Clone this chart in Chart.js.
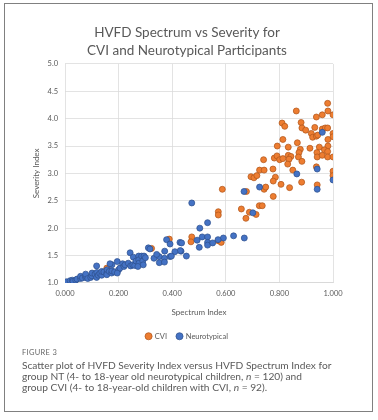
<!DOCTYPE html>
<html>
<head>
<meta charset="utf-8">
<script src="https://cdn.jsdelivr.net/npm/chart.js@4.4.1/dist/chart.umd.min.js"></script>
<style>
  body { margin: 0; background: #fff; }
  #frame { position: absolute; left: 4px; top: 3px; width: 369px; height: 409px; box-sizing: border-box; border: 1px solid #808080; }
  #myChart { position: absolute; left: 0; top: 0; }
  #fig { position: absolute; left: 22px; top: 348px; font-family: Lato, sans-serif; font-size: 7.5px; color: #666; letter-spacing: 0.3px; }
  #caption { position: absolute; left: 22px; top: 360px; width: 345px; font-family: Lato, sans-serif; font-size: 10.2px; line-height: 11px; color: #5a5a5a; }
</style>
</head>
<body>
<div id="frame"></div>
<canvas id="myChart" width="374" height="350"></canvas>
<div id="fig">FIGURE 3</div>
<div id="caption">Scatter plot of HVFD Severity Index versus HVFD Spectrum Index for<br>group NT (4- to 18-year old neurotypical children, <i>n</i> = 120) and<br>group CVI (4- to 18-year-old children with CVI, <i>n</i> = 92).</div>
<script>
// values
var cviX = [0.980, 0.863, 0.981, 0.960, 0.938, 1.000, 0.810, 0.820, 0.881, 0.884, 0.898, 0.932, 0.960, 0.971, 0.980,
            0.919, 0.924, 0.938, 0.943, 1.000, 1.000, 0.981, 0.813, 0.867, 0.792, 0.833, 0.878, 0.873, 0.914, 0.949,
            0.981, 0.968, 0.980, 0.940, 0.941, 0.960, 0.980, 1.000, 0.781, 0.791, 0.801, 0.813, 0.833, 0.843, 0.836,
            0.871, 0.884, 0.831, 0.741, 0.726, 0.743, 0.776, 0.850, 0.938, 1.000, 1.000, 0.694, 0.705, 0.716, 0.785,
            0.777, 0.883, 0.806, 0.941, 0.587, 0.743, 0.749, 0.838, 0.777, 0.677, 0.725, 0.736, 0.658, 0.688, 0.713,
            0.675, 0.572, 0.572, 0.572, 0.583, 0.473, 0.470, 0.389, 0.323, 0.156];
var cviY = [4.28, 4.14, 4.14, 4.07, 4.03, 4.07, 3.92, 3.86, 3.93, 3.83, 3.79, 3.84, 3.81, 3.83, 3.83,
            3.73, 3.66, 3.68, 3.70, 3.73, 3.67, 3.62, 3.62, 3.56, 3.50, 3.48, 3.44, 3.38, 3.46, 3.48,
            3.50, 3.43, 3.40, 3.38, 3.30, 3.33, 3.30, 3.30, 3.28, 3.32, 3.25, 3.27, 3.33, 3.31, 3.26,
            3.30, 3.22, 3.17, 3.25, 3.06, 3.06, 3.08, 3.06, 3.12, 3.04, 2.96, 2.94, 2.92, 2.96, 2.93,
            2.86, 2.84, 2.80, 2.79, 2.71, 2.71, 2.75, 2.74, 2.58, 2.67, 2.41, 2.41, 2.35, 2.29, 2.25,
            2.18, 2.30, 2.24, 1.77, 1.74, 1.84, 1.75, 1.80, 1.63, 1.27];

var ntX = [0.960, 0.941, 1.000, 0.865, 0.941, 0.726, 0.668, 0.701, 0.473, 0.532, 0.503, 0.629, 0.669, 0.591, 0.571,
           0.512, 0.532, 0.493, 0.532, 0.532, 0.551, 0.501, 0.429, 0.433, 0.453, 0.379, 0.392, 0.430, 0.410, 0.392,
           0.372, 0.371, 0.351, 0.352, 0.371, 0.332, 0.342, 0.311, 0.317, 0.435, 0.397,
           0.000, 0.005, 0.019, 0.027, 0.030, 0.040, 0.045, 0.058, 0.058, 0.065, 0.077, 0.077, 0.077, 0.085, 0.096,
           0.100, 0.101, 0.112, 0.118, 0.119, 0.124, 0.130, 0.137, 0.137, 0.145, 0.156, 0.157, 0.156, 0.165, 0.174,
           0.175, 0.175, 0.168, 0.185, 0.195, 0.200, 0.195, 0.118, 0.205, 0.215, 0.220, 0.224, 0.243, 0.236, 0.245,
           0.253, 0.255, 0.260, 0.265, 0.275, 0.275, 0.286, 0.276, 0.272, 0.290, 0.292, 0.295, 0.300];
var ntY = [3.75, 3.08, 2.88, 2.99, 2.71, 2.75, 2.67, 2.28, 2.46, 2.10, 2.00, 1.86, 1.82, 1.82, 1.79,
           1.84, 1.84, 1.78, 1.74, 1.69, 1.73, 1.65, 1.74, 1.58, 1.49, 1.79, 1.71, 1.59, 1.57, 1.48,
           1.58, 1.45, 1.48, 1.37, 1.38, 1.45, 1.52, 1.64, 1.62, 1.73, 1.49,
           1.00, 1.02, 1.04, 1.05, 1.03, 1.05, 1.07, 1.08, 1.12, 1.09, 1.10, 1.13, 1.16, 1.08, 1.10,
           1.13, 1.18, 1.16, 1.10, 1.19, 1.14, 1.17, 1.14, 1.21, 1.20, 1.18, 1.24, 1.15, 1.21, 1.18,
           1.22, 1.33, 1.35, 1.20, 1.39, 1.24, 1.18, 1.31, 1.27, 1.35, 1.30, 1.33, 1.55, 1.36, 1.31,
           1.33, 1.47, 1.32, 1.40, 1.49, 1.42, 1.49, 1.36, 1.30, 1.40, 1.33, 1.49, 1.46];

var xTicks = [0, 0.2, 0.4, 0.6, 0.8, 1.0];
var yTicks = [1.0, 1.5, 2.0, 2.5, 3.0, 3.5, 4.0, 4.5, 5.0];

function pts(xs, ys) {
    return xs.map(function (x, i) { return { x: x, y: ys[i] }; });
}

var txt = '#595959';
var grid = '#d9d9d9';
var ctx = document.getElementById('myChart');
var myChart = new Chart(ctx, {
    type: 'scatter',
    data: {
        datasets: [{
            label: 'CVI',
            data: pts(cviX, cviY),
            backgroundColor: '#ED7D31',
            borderColor: '#B2571C',
            borderWidth: 0.75,
            pointRadius: 3,
            order: 1
        }, {
            label: 'Neurotypical',
            data: pts(ntX, ntY),
            backgroundColor: '#4472C4',
            borderColor: '#2F528F',
            borderWidth: 0.75,
            pointRadius: 3,
            order: 0
        }]
    },
    options: {
        responsive: false,
        animation: false,
        layout: { padding: { left: 0, right: 0, top: 0, bottom: 0 } },
        plugins: {
            title: {
                display: true,
                text: ['HVFD Spectrum vs Severity for', 'CVI and Neurotypical Participants'],
                color: txt,
                font: { family: 'Lato', size: 13.5, weight: 'normal', lineHeight: 1.33 },
                padding: { top: 24, bottom: 4 }
            },
            legend: {
                position: 'bottom',
                labels: {
                    usePointStyle: true,
                    pointStyle: 'circle',
                    boxWidth: 5,
                    boxHeight: 5,
                    padding: 10,
                    color: txt,
                    font: { family: 'Lato', size: 7.5 },
                    sort: function (a, b) { return a.datasetIndex - b.datasetIndex; }
                }
            },
            tooltip: { enabled: false }
        },
        scales: {
            x: {
                type: 'linear',
                min: 0,
                max: 1,
                afterBuildTicks: function (s) { s.ticks = xTicks.map(function (v) { return { value: v }; }); },
                ticks: {
                    padding: 6,
                    color: txt,
                    font: { family: 'Lato', size: 7.5 },
                    callback: function (v) { return v.toFixed(3); }
                },
                grid: { color: grid, lineWidth: 0.75, drawTicks: false },
                border: { color: grid },
                title: {
                    display: true,
                    text: 'Spectrum Index',
                    color: txt,
                    font: { family: 'Lato', size: 8 },
                    padding: { top: 4, bottom: 5 }
                }
            },
            y: {
                type: 'linear',
                min: 1,
                max: 5,
                afterBuildTicks: function (s) { s.ticks = yTicks.map(function (v) { return { value: v }; }); },
                afterFit: function (s) { s.width = 65; },
                ticks: {
                    padding: 7,
                    color: txt,
                    font: { family: 'Lato', size: 7.5 },
                    callback: function (v) { return v.toFixed(1); }
                },
                grid: { color: grid, lineWidth: 0.75, drawTicks: false },
                border: { display: false },
                title: {
                    display: true,
                    text: 'Severity Index',
                    color: txt,
                    font: { family: 'Lato', size: 8 },
                    padding: { top: 32 }
                }
            },
            y2: {
                type: 'linear',
                position: 'right',
                display: true,
                afterFit: function (s) { s.width = 41; },
                ticks: { display: false },
                grid: { display: false },
                border: { display: false }
            }
        }
    }
});
</script>
</body>
</html>
